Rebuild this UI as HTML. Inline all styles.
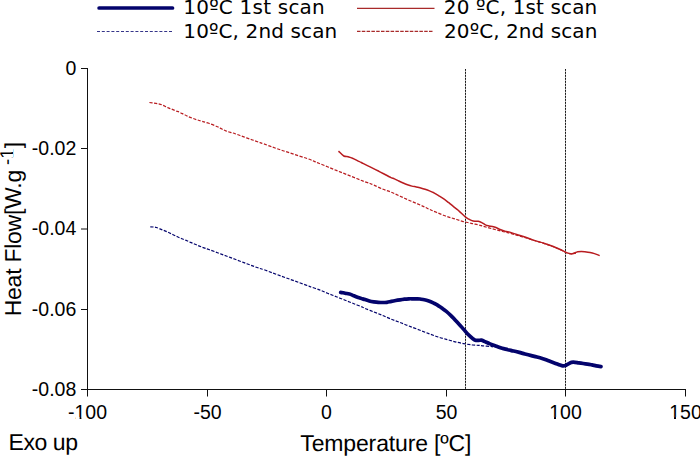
<!DOCTYPE html>
<html><head><meta charset="utf-8"><style>
html,body{margin:0;padding:0;background:#fff;width:700px;height:456px;overflow:hidden}
svg{display:block}
.tk{font-family:"Liberation Sans",Arial,sans-serif;font-size:19.5px;fill:#000}
.ax{font-family:"Liberation Sans",Arial,sans-serif;font-size:23px;fill:#000;text-rendering:geometricPrecision}
.lg{font-family:"DejaVu Sans",sans-serif;font-size:20px;fill:#000}
</style></head><body>
<svg width="700" height="456" viewBox="0 0 700 456">
<rect width="700" height="456" fill="#fff"/>
<path d="M87.5 68 V389.5 M87 389.5 H686" stroke="#111" stroke-width="1" fill="none"/>
<path d="M81 68.5 H87.5 M81 148.5 H87.5 M81 229.0 H87.5 M81 309.5 H87.5 M81 389.5 H87.5 M87.5 389.5 V396.5 M207.5 389.5 V396.5 M326.5 389.5 V396.5 M446.5 389.5 V396.5 M565.5 389.5 V396.5 M685.5 389.5 V396.5" stroke="#111" stroke-width="1" fill="none"/>
<path d="M465.5 69 V389 M565.5 69 V389" stroke="#b4b4b4" stroke-width="1" fill="none"/>
<path d="M465.5 69 V389 M565.5 69 V389" stroke="#1a1a1a" stroke-width="1" stroke-dasharray="1.8 1.2" fill="none"/>
<path d="M149.4 102.5 C150.1 102.6 152.3 102.9 153.8 103.1 C155.3 103.3 156.8 103.5 158.2 103.8 C159.6 104.1 161.1 104.5 162.5 105.1 C163.9 105.7 165.4 106.6 166.9 107.3 C168.4 108.0 169.8 108.4 171.3 109.0 C172.8 109.6 174.2 110.2 175.7 110.8 C177.2 111.4 178.6 111.8 180.1 112.5 C181.6 113.2 183.0 114.0 184.5 114.7 C186.0 115.4 187.5 116.3 188.9 116.9 C190.3 117.5 191.8 118.0 193.2 118.5 C194.6 119.0 196.1 119.5 197.6 120.0 C199.1 120.5 200.1 120.8 202.0 121.3 C203.9 121.8 206.2 122.4 208.8 123.3 C211.4 124.2 215.3 125.8 217.5 126.8 C219.7 127.8 220.4 128.3 221.9 129.0 C223.4 129.7 224.1 130.3 226.3 131.1 C228.5 131.9 232.2 132.7 235.1 133.7 C238.0 134.7 241.0 135.8 243.9 136.9 C246.8 138.0 249.9 139.1 252.6 140.0 C255.3 140.9 258.1 142.0 260.0 142.6 C261.9 143.2 261.7 143.1 263.8 143.8 C265.9 144.6 269.6 146.1 272.5 147.1 C275.4 148.1 278.4 149.1 281.3 150.1 C284.2 151.1 287.2 152.0 290.1 153.0 C293.0 154.0 296.0 155.0 298.9 155.9 C301.8 156.8 305.1 157.8 307.6 158.7 C310.1 159.6 311.9 160.3 313.8 161.1 C315.7 161.9 316.5 162.4 318.8 163.3 C321.1 164.2 324.6 165.6 327.5 166.8 C330.4 168.0 333.4 169.2 336.3 170.4 C339.2 171.6 342.2 172.7 345.1 173.9 C348.0 175.1 351.0 176.2 353.9 177.4 C356.8 178.6 359.9 179.9 362.6 180.9 C365.3 181.9 368.1 182.8 370.0 183.5 C371.9 184.2 371.7 184.2 373.8 185.1 C375.9 186.0 379.6 187.8 382.5 189.0 C385.4 190.2 388.4 191.0 391.3 192.2 C394.2 193.4 397.2 194.9 400.1 196.2 C403.0 197.5 406.0 198.9 408.9 200.2 C411.8 201.5 414.9 202.7 417.6 203.9 C420.3 205.1 422.9 206.2 425.0 207.2 C427.1 208.2 428.5 209.0 430.4 209.8 C432.3 210.7 434.0 211.3 436.4 212.3 C438.8 213.3 442.1 214.8 445.0 215.8 C447.9 216.9 450.9 217.7 453.8 218.6 C456.7 219.5 459.6 220.5 462.5 221.3 C465.4 222.1 468.4 222.6 471.3 223.3 C474.2 224.0 477.2 224.5 480.1 225.3 C483.0 226.1 486.0 227.1 488.9 227.9 C491.8 228.7 494.9 229.5 497.6 230.2 C500.3 230.9 503.1 231.6 505.0 232.0 C506.9 232.4 506.7 232.3 508.8 232.9 C510.9 233.5 514.6 234.6 517.5 235.4 C520.4 236.2 523.4 237.0 526.3 237.9 C529.2 238.8 532.2 239.9 535.1 240.8 C538.0 241.7 541.0 242.5 543.9 243.4 C546.8 244.3 549.9 245.5 552.6 246.5 C555.3 247.5 558.1 248.7 560.3 249.6 C562.4 250.5 564.0 251.5 565.5 252.2 C567.0 252.8 567.8 253.3 569.0 253.5 C570.2 253.7 571.3 253.7 572.5 253.6 C573.7 253.5 575.4 253.3 576.0 253.2" stroke="#b81c20" stroke-width="1.2" stroke-dasharray="3.2 1.5" fill="none"/>
<path d="M150.3 226.8 C150.9 226.8 152.8 226.9 153.8 227.0 C154.8 227.1 155.4 227.2 156.4 227.5 C157.4 227.8 158.6 228.4 159.9 228.9 C161.2 229.4 162.8 230.0 164.3 230.6 C165.8 231.2 167.2 231.8 168.7 232.5 C170.2 233.2 171.6 234.0 173.1 234.7 C174.6 235.4 176.1 236.1 177.5 236.8 C178.9 237.5 180.4 238.1 181.8 238.7 C183.2 239.3 184.7 239.8 186.2 240.4 C187.7 241.0 189.1 241.8 190.6 242.4 C192.1 243.0 193.5 243.6 195.0 244.2 C196.5 244.8 197.9 245.5 199.4 246.1 C200.9 246.7 202.4 247.3 204.0 247.9 C205.6 248.5 206.6 248.7 208.8 249.5 C211.1 250.3 214.6 251.6 217.5 252.7 C220.4 253.8 223.4 254.9 226.3 256.0 C229.2 257.1 232.2 258.2 235.1 259.3 C238.0 260.4 241.0 261.5 243.9 262.6 C246.8 263.7 249.9 264.9 252.6 265.9 C255.3 266.9 258.1 267.9 260.0 268.5 C261.9 269.1 261.7 268.9 263.8 269.6 C265.9 270.3 269.6 271.8 272.5 272.9 C275.4 274.0 278.4 275.0 281.3 276.1 C284.2 277.2 287.2 278.2 290.1 279.3 C293.0 280.4 296.0 281.4 298.9 282.5 C301.8 283.6 305.8 284.9 307.6 285.6 C309.5 286.3 308.1 285.9 310.0 286.6 C311.9 287.3 315.9 288.5 318.8 289.6 C321.7 290.7 324.6 292.0 327.5 293.2 C330.4 294.4 333.4 295.5 336.3 296.7 C339.2 297.9 342.2 299.0 345.1 300.2 C348.0 301.4 351.0 302.5 353.9 303.7 C356.8 304.9 360.8 306.4 362.6 307.2 C364.5 308.0 363.1 307.6 365.0 308.4 C366.9 309.2 370.9 310.7 373.8 311.9 C376.7 313.1 379.6 314.2 382.5 315.4 C385.4 316.6 388.4 318.0 391.3 319.2 C394.2 320.4 397.2 321.4 400.1 322.5 C403.0 323.6 405.7 324.8 408.9 326.0 C412.1 327.2 416.1 328.7 419.4 330.0 C422.7 331.3 425.8 332.5 428.8 333.6 C431.8 334.7 434.6 335.9 437.5 336.8 C440.4 337.8 443.4 338.5 446.3 339.3 C449.2 340.1 452.2 341.1 455.1 341.8 C458.0 342.5 461.0 343.2 463.9 343.7 C466.8 344.2 470.1 344.7 472.6 345.0 C475.1 345.3 477.0 345.2 478.8 345.4 C480.6 345.5 481.3 345.7 483.2 345.9 C485.1 346.1 488.6 346.4 490.2 346.5 C491.8 346.6 492.5 346.8 493.0 346.8" stroke="#03036c" stroke-width="1.2" stroke-dasharray="3.2 1.5" fill="none"/>
<path d="M338.5 151.1 C339.4 151.9 342.2 155.1 343.8 156.0 C345.4 156.9 346.8 156.4 348.2 156.8 C349.6 157.2 350.8 157.5 352.5 158.2 C354.2 158.9 356.7 160.4 358.2 161.1 C359.7 161.8 359.3 161.5 361.3 162.5 C363.3 163.5 367.2 165.4 370.1 166.9 C373.0 168.4 376.2 170.0 378.9 171.3 C381.5 172.7 384.1 174.0 386.0 175.0 C387.9 176.0 389.1 176.7 390.5 177.3 C391.9 178.0 393.0 178.3 394.4 178.9 C395.8 179.5 397.3 180.3 398.8 181.0 C400.3 181.7 401.8 182.4 403.2 183.0 C404.6 183.6 406.1 184.2 407.5 184.7 C408.9 185.2 410.4 185.7 411.9 186.1 C413.4 186.5 414.8 186.6 416.3 186.9 C417.8 187.2 419.2 187.6 420.7 188.0 C422.2 188.4 423.6 188.8 425.1 189.3 C426.6 189.8 428.0 190.3 429.5 190.9 C431.0 191.5 432.4 192.1 433.9 192.8 C435.3 193.6 436.8 194.5 438.2 195.4 C439.6 196.3 441.1 197.2 442.6 198.2 C444.1 199.2 445.9 200.5 447.0 201.3 C448.1 202.1 448.3 202.3 449.4 203.2 C450.5 204.1 452.3 205.6 453.8 206.8 C455.3 208.0 456.8 209.1 458.2 210.3 C459.6 211.6 461.3 213.2 462.5 214.3 C463.7 215.5 464.6 216.4 465.6 217.2 C466.6 218.0 467.8 218.6 468.7 219.1 C469.6 219.6 470.3 220.0 471.3 220.4 C472.3 220.8 473.6 221.2 474.8 221.3 C476.0 221.5 477.1 221.1 478.3 221.3 C479.5 221.5 480.6 222.0 481.8 222.6 C483.0 223.2 484.2 224.2 485.4 224.8 C486.6 225.4 487.7 225.6 488.9 225.9 C490.1 226.2 491.2 226.1 492.4 226.4 C493.6 226.7 494.7 227.0 495.9 227.5 C497.1 228.0 497.9 228.6 499.4 229.2 C500.9 229.8 503.4 230.8 505.0 231.2 C506.6 231.6 506.7 231.3 508.8 231.9 C510.9 232.5 514.6 233.8 517.5 234.7 C520.4 235.6 523.4 236.5 526.3 237.5 C529.2 238.5 532.2 239.7 535.1 240.6 C538.0 241.5 541.0 242.2 543.9 243.2 C546.8 244.1 549.9 245.2 552.6 246.3 C555.3 247.4 558.1 248.5 560.3 249.5 C562.4 250.5 564.0 251.4 565.5 252.1 C567.0 252.8 568.0 253.1 569.0 253.4 C570.0 253.7 570.8 254.0 571.7 253.9 C572.6 253.8 573.3 253.4 574.3 253.0 C575.3 252.6 576.6 252.0 577.8 251.7 C579.0 251.4 580.1 251.4 581.3 251.4 C582.5 251.4 583.3 251.5 584.8 251.7 C586.3 251.9 588.5 252.2 590.1 252.5 C591.7 252.8 592.9 253.1 594.5 253.6 C596.1 254.1 598.8 255.3 599.7 255.6" stroke="#b81c20" stroke-width="1.5" fill="none" stroke-linejoin="round"/>
<path d="M340.7 292.3 C341.4 292.4 343.6 292.9 345.1 293.2 C346.6 293.5 348.0 293.6 349.5 294.0 C351.0 294.4 352.4 295.2 353.9 295.8 C355.3 296.4 356.8 297.0 358.2 297.5 C359.6 298.0 361.5 298.5 362.6 298.9 C363.7 299.2 363.9 299.2 365.0 299.6 C366.1 300.0 367.9 300.6 369.4 301.0 C370.9 301.4 372.3 301.6 373.8 301.8 C375.3 302.0 376.8 302.2 378.2 302.3 C379.6 302.4 381.1 302.5 382.5 302.5 C383.9 302.5 385.4 302.5 386.9 302.3 C388.4 302.1 389.8 301.7 391.3 301.4 C392.8 301.1 394.2 300.8 395.7 300.5 C397.2 300.2 398.6 300.0 400.1 299.8 C401.6 299.6 403.0 299.4 404.5 299.2 C406.0 299.0 407.4 298.9 408.9 298.8 C410.3 298.7 411.8 298.8 413.2 298.8 C414.6 298.8 416.5 298.8 417.6 298.8 C418.7 298.8 418.9 298.8 420.0 299.0 C421.1 299.2 422.9 299.5 424.4 299.8 C425.9 300.1 427.3 300.5 428.8 301.0 C430.3 301.5 431.8 302.2 433.2 302.9 C434.6 303.6 436.1 304.2 437.5 305.1 C438.9 306.0 440.4 307.1 441.9 308.1 C443.4 309.2 444.8 310.2 446.3 311.4 C447.8 312.6 449.2 313.9 450.7 315.3 C452.2 316.7 453.6 318.4 455.1 320.0 C456.6 321.6 458.0 323.1 459.5 324.7 C461.0 326.3 462.4 328.0 463.9 329.6 C465.3 331.2 466.8 333.1 468.2 334.6 C469.6 336.1 471.4 337.6 472.6 338.5 C473.8 339.4 474.3 339.9 475.3 340.2 C476.3 340.5 477.8 340.3 478.8 340.3 C479.8 340.3 480.5 340.1 481.4 340.2 C482.3 340.3 483.0 340.8 484.0 341.2 C485.0 341.6 486.4 342.3 487.5 342.8 C488.6 343.3 489.2 343.5 490.7 344.1 C492.2 344.7 494.5 345.5 496.4 346.2 C498.3 346.9 500.2 347.7 502.1 348.3 C504.0 348.9 506.0 349.2 507.9 349.7 C509.8 350.1 511.7 350.6 513.6 351.0 C515.5 351.4 517.4 351.9 519.3 352.4 C521.2 352.9 523.0 353.5 525.0 354.0 C527.0 354.5 529.4 355.1 531.4 355.6 C533.4 356.1 535.1 356.5 537.0 357.0 C538.9 357.5 541.0 358.1 542.9 358.7 C544.8 359.3 546.7 360.1 548.6 360.8 C550.5 361.5 552.4 362.2 554.3 362.9 C556.2 363.6 558.6 364.6 560.0 365.1 C561.4 365.6 561.8 365.8 562.7 365.9 C563.6 366.0 564.5 365.9 565.4 365.6 C566.3 365.3 567.0 364.6 568.0 364.1 C569.0 363.6 570.3 362.7 571.5 362.4 C572.7 362.1 573.8 362.2 575.0 362.3 C576.2 362.4 577.4 362.7 578.8 362.9 C580.2 363.1 581.8 363.3 583.2 363.5 C584.7 363.7 586.0 363.9 587.5 364.1 C589.0 364.3 590.4 364.6 591.9 364.9 C593.4 365.2 594.8 365.6 596.3 365.9 C597.8 366.2 600.2 366.5 601.0 366.6" stroke="#03036c" stroke-width="3.7" fill="none" stroke-linejoin="round" stroke-linecap="round"/>
<path d="M99.1 8 H172.5" stroke="#03036c" stroke-width="3.7" stroke-linecap="round"/>
<path d="M97 31.5 H173" stroke="#03036c" stroke-opacity="0.8" stroke-width="1" stroke-dasharray="3 1.8"/>
<path d="M357 8.3 H434.5" stroke="#a82a2a" stroke-width="1.3"/>
<path d="M357 31.4 H433" stroke="#a82a2a" stroke-width="1.2" stroke-dasharray="3.5 1.3"/>
<text x="76.3" y="74.5" text-anchor="end" class="tk">0</text>
<text x="76.3" y="154.5" text-anchor="end" class="tk">-0.02</text>
<text x="76.3" y="235.0" text-anchor="end" class="tk">-0.04</text>
<text x="76.3" y="315.5" text-anchor="end" class="tk">-0.06</text>
<text x="76.3" y="395.5" text-anchor="end" class="tk">-0.08</text>
<text x="87.5" y="419" text-anchor="middle" class="tk">-100</text>
<text x="207.5" y="419" text-anchor="middle" class="tk">-50</text>
<text x="326.5" y="419" text-anchor="middle" class="tk">0</text>
<text x="446.5" y="419" text-anchor="middle" class="tk">50</text>
<text x="565.5" y="419" text-anchor="middle" class="tk">100</text>
<text x="685.5" y="419" text-anchor="middle" class="tk">150</text>
<text x="8.52" y="449.8" class="ax" textLength="69.49" lengthAdjust="spacing">Exo up</text>
<text x="300.29" y="451.2" class="ax" textLength="171.2" lengthAdjust="spacing">Temperature [ºC]</text>
<text transform="translate(21.1 316.3) rotate(-90)" class="ax" textLength="146.56" lengthAdjust="spacing">Heat Flow[W.g</text>
<text transform="translate(13.3 164.88) rotate(-90)" class="ax" style="font-size:18.5px">-1</text>
<text transform="translate(21.1 148.2) rotate(-90)" class="ax">]</text>
<text x="183.29" y="14" class="lg" textLength="141.49" lengthAdjust="spacing">10ºC 1st scan</text>
<text x="183.29" y="37.8" class="lg" textLength="153.91" lengthAdjust="spacing">10ºC, 2nd scan</text>
<text x="443.84" y="13.9" class="lg" textLength="153.47" lengthAdjust="spacing">20 ºC, 1st scan</text>
<text x="444.07" y="37.7" class="lg" textLength="153.28" lengthAdjust="spacing">20ºC, 2nd scan</text>
<g fill="#fff"><rect x="76" y="417" width="3" height="2"/><rect x="82" y="417" width="3" height="2"/><rect x="550" y="417" width="4" height="2"/><rect x="556" y="417" width="4" height="2"/><rect x="670" y="417" width="4" height="2"/><rect x="676" y="417" width="4" height="2"/><rect x="11" y="149" width="2" height="3"/><rect x="11" y="154" width="2" height="3"/></g><g fill="#fff" fill-opacity="0.6"><rect x="79" y="417" width="1" height="2"/><rect x="81" y="417" width="1" height="2"/></g>
</svg>
</body></html>
